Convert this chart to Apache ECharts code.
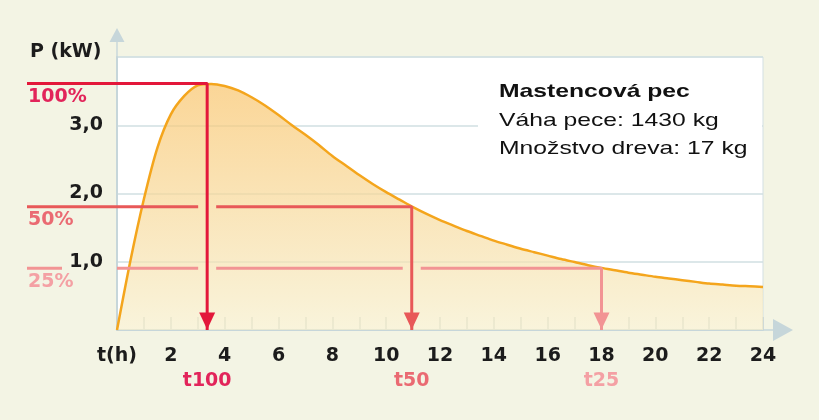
<!DOCTYPE html>
<html><head><meta charset="utf-8">
<script src="https://cdn.jsdelivr.net/npm/echarts@6/dist/echarts.min.js"></script>
<style>html,body{margin:0;padding:0;background:#f3f4e4}#c{width:819px;height:420px}</style>
</head><body><div id="c"></div><script>
// ---- data ----
const hours = [0,0.5,1,1.5,2,2.5,3,3.5,4,4.5,5,5.5,6,6.5,7,7.5,8,8.5,9,9.5,10,10.5,11,11.5,12,12.5,13,13.5,14,14.5,15,15.5,16,16.5,17,17.5,18,18.5,19,19.5,20,20.5,21,21.5,22,22.5,23,23.5,24];
const power = [0,1.02,1.92,2.67,3.16,3.43,3.585,3.605,3.575,3.51,3.41,3.29,3.15,3.0,2.86,2.71,2.55,2.41,2.27,2.14,2.02,1.91,1.80,1.70,1.61,1.53,1.45,1.38,1.31,1.25,1.19,1.14,1.09,1.04,0.995,0.95,0.91,0.875,0.84,0.81,0.78,0.755,0.73,0.705,0.68,0.665,0.65,0.64,0.63];
const pctLabels = ['100%','50%','25%'];
const levels = [3.61, 1.805, 0.905];
const times = [3.35, 10.95, 18.0];
const timeLabels = ['t100','t50','t25'];
const yTickLabels = {1:'1,0',2:'2,0',3:'3,0'};
const infoTitle = 'Mastencová pec';
const infoLines = ['Váha pece: 1430 kg','Množstvo dreva: 17 kg'];

// ---- layout / style ----
const W = 819, H = 420;
const G = {left:117, right:56, top:57, bottom:90};
const OV_LEFT = 27;
const pxPerHour = (W - G.left - G.right) / 24;
const ovMin = -(G.left - OV_LEFT) / pxPerHour;
const gapHalf = 9 / pxPerHour;
const lineCols = ['#e3173a','#e85858','#f29494'];
const labelCols = ['#e2245a','#ea6a72','#f4a0a4'];
const axisCol = '#c6d6da';
const FONT = 'DejaVu Sans';

function refSeries(i){
  const L = levels[i];
  const gaps = [];
  // gap where the y tick label sits next to the line
  if (Math.abs(L - Math.round(L)) < 0.15) gaps.push([ovMin + (62-OV_LEFT)/pxPerHour, 0]);
  for (let j = 0; j < i; j++) gaps.push([times[j]-gapHalf, times[j]+gapHalf]);
  const data = [[ovMin, L]];
  gaps.forEach(g => { data.push([g[0], L]); data.push([(g[0]+g[1])/2, '-']); data.push([g[1], L]); });
  data.push([times[i], L]);
  data.push({value:[times[i], 0], symbol:'triangle', symbolSize:[16,17], symbolRotate:180, symbolOffset:[0,-9], itemStyle:{color:lineCols[i]}});
  return {
    type:'line', xAxisIndex:1, yAxisIndex:1, data, symbol:'none', showSymbol:true,
    connectNulls:false, lineStyle:{color:lineCols[i], width:3}, itemStyle:{color:lineCols[i]},
    silent:true, z:5, emphasis:{disabled:true}
  };
}

const chart = echarts.init(document.getElementById('c'), null, {renderer:'canvas'});
const option = {
  animation:false,
  backgroundColor:'#f3f4e4',
  grid:[
    Object.assign({show:true, backgroundColor:'#ffffff', borderColor:'#d3dfe2', borderWidth:1}, G),
    {left:OV_LEFT, right:G.right, top:G.top, bottom:G.bottom, show:false}
  ],
  xAxis:[
    {type:'value', min:0, max:24, interval:1, gridIndex:0,
     axisLine:{show:true, lineStyle:{color:axisCol, width:2},
       symbol:['none','path://M11,0 L22,20 L11.7,20 L11.7,30 L10.3,30 L10.3,20 L0,20 Z'],
       symbolSize:[22,30], symbolOffset:[0,15]},
     axisTick:{show:true, inside:true, length:13, lineStyle:{color:'#c9d3d4', width:1.5}},
     axisLabel:{margin:17, color:'#1c1c1c', fontFamily:FONT, fontWeight:'bold', fontSize:19,
       showMinLabel:true, showMaxLabel:true,
       formatter:v => v===0 ? 't(h)' : (v%2===0 ? String(v) : '')},
     splitLine:{show:false}},
    {type:'value', min:ovMin, max:24, gridIndex:1, show:false}
  ],
  yAxis:[
    {type:'value', min:0, max:4, interval:1, gridIndex:0,
     axisLine:{show:true, lineStyle:{color:axisCol, width:2},
       symbol:['none','path://M7.5,0 L15,14 L8.2,14 L8.2,29 L6.8,29 L6.8,14 L0,14 Z'],
       symbolSize:[15,29], symbolOffset:[0,14.5]},
     axisTick:{show:false},
     axisLabel:{margin:14, color:'#1c1c1c', fontFamily:FONT, fontWeight:'bold', fontSize:19,
       formatter:v => yTickLabels[v] || ''},
     splitLine:{show:true, lineStyle:{color:'#d0dfe2', width:1.5}}},
    {type:'value', min:0, max:4, gridIndex:1, show:false}
  ],
  series:[
    {type:'line', xAxisIndex:0, yAxisIndex:0, data:hours.map((h,i)=>[h,power[i]]),
     smooth:0.3, symbol:'none', lineStyle:{color:'#f4a51c', width:2.5},
     areaStyle:{color:new echarts.graphic.LinearGradient(0,0,0,1,[{offset:0,color:'#f9c46a'},{offset:1,color:'#f6efcc'}])},
     silent:true, z:2}
  ].concat([0,1,2].map(refSeries))
};
chart.setOption(option);

const gfx = [];
gfx.push({type:'text', left:30, top:43, z:20, style:{text:'P (kW)', fill:'#1c1c1c', font:'bold 19px "DejaVu Sans"'}});
const pctTops = levels.map(L => chart.convertToPixel({gridIndex:1}, [ovMin, L])[1] + 4);
pctLabels.forEach((t,i) => gfx.push({type:'text', left:28, top:pctTops[i], z:20,
  style:{text:t, fill:labelCols[i], font:'bold 19px "DejaVu Sans"'}}));
times.forEach((t,i) => {
  const p = chart.convertToPixel({gridIndex:1}, [t, 0]);
  gfx.push({type:'text', x:p[0], y:381, z:20, style:{text:timeLabels[i], fill:labelCols[i], font:'bold 19px "DejaVu Sans"', textAlign:'center', textVerticalAlign:'middle'}});
});
gfx.push({type:'rect', shape:{x:478, y:72, width:284, height:104}, style:{fill:'#ffffff'}, z:15, silent:true});
gfx.push({type:'text', x:499, y:101, scaleX:1.3, z:20, style:{text:infoTitle, fill:'#111', font:'bold 19px "Liberation Sans"', textVerticalAlign:'bottom'}});
infoLines.forEach((t,i) => gfx.push({type:'text', x:499, y:130 + i*28, scaleX:1.3, z:20,
  style:{text:t, fill:'#111', font:'19px "Liberation Sans"', textVerticalAlign:'bottom'}}));
chart.setOption({graphic:gfx});
</script></body></html>
